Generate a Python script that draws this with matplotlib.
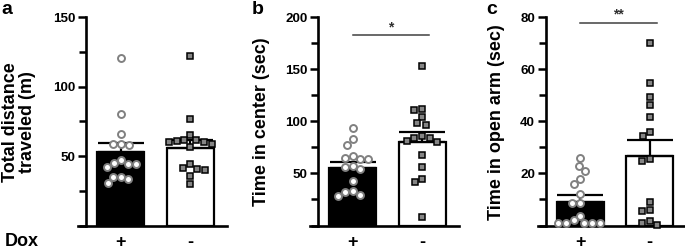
import numpy as np
import matplotlib
matplotlib.use('Agg')
import matplotlib.pyplot as plt
from matplotlib.ticker import MultipleLocator

plt.rcParams['font.family'] = ['Liberation Sans', 'DejaVu Sans']
plt.rcParams['font.weight'] = 'bold'

# ---------------- data ----------------
groups = ['+', '-']

a_plus = [121, 80.5, 66, 59, 58.5, 58, 47.5, 45, 44.5, 44.5, 42, 35, 35, 33.5, 30.5]
a_minus = [122, 76.5, 65.5, 61.5, 61, 60.5, 60, 61.5, 59, 56.5, 44, 41.5, 40.5, 40, 36, 30]
a_mean = [53, 56]
a_sem = [6.5, 5.5]

b_plus = [94, 83, 77.5, 67, 64.5, 64, 63.5, 57, 56, 54, 43, 33, 32, 29.5, 28.5]
b_minus = [153, 112, 111, 104, 98, 97, 85.5, 84.5, 84, 81, 80, 68, 56.5, 45, 42, 8]
b_mean = [55.5, 80.5]
b_sem = [5.2, 9.7]

c_plus = [26, 23, 21, 18, 16, 12, 8.5, 8.5, 3.8, 2, 1, 1, 0.8, 0.8, 0.8]
c_minus = [70, 54.6, 49.4, 46.2, 41.7, 35.9, 34.3, 25.7, 24.7, 9, 5.8, 5.4, 1.7, 1, 0.3]
c_mean = [9.0, 26.8]
c_sem = [2.8, 6.0]

ylabels = ['Total distance\ntraveled (m)', 'Time in center (sec)', 'Time in open arm (sec)']
panel_letters = ['a', 'b', 'c']
ymax = [150, 200, 80]
ystep = [50, 50, 20]
signif = [None, '*', '**']
signif_y = [None, 183, 78]

# ---------------- layout ----------------
W, H = 685, 250
fig = plt.figure(figsize=(W / 100, H / 100), dpi=100)

ax_left_px = [86, 318, 545.5]
ax_top_px, ax_bot_px = 17.3, 225.5
XLIM = (-0.5, 1.53)
x_px_per_unit = 69.5
ax_w_px = (XLIM[1] - XLIM[0]) * x_px_per_unit
ax_h_px = ax_bot_px - ax_top_px

ylabel_x_px = [19, 261.5, 496]
letter_pos = [(1, 10), (252, 10), (486, 10)]


def swarm(values, yscale, d=8.0):
    """Simple beeswarm: returns x offsets (pixels) for values (y in pixels)."""
    vals = np.asarray(values, float) * yscale
    order = np.argsort(-vals)
    placed = []
    offs = np.zeros(len(vals))
    for i in order:
        y = vals[i]
        cands = [0.0]
        for (px, py) in placed:
            dy = abs(py - y)
            if dy < d:
                dx = np.sqrt(d * d - dy * dy)
                cands += [px + dx, px - dx]
        cands = sorted(cands, key=lambda c: (abs(c), c))
        for c in cands:
            ok = all((c - px) ** 2 + (y - py) ** 2 >= d * d - 1e-6 for (px, py) in placed)
            if ok:
                offs[i] = c
                placed.append((c, y))
                break
    return offs


data = [(a_plus, a_minus, a_mean, a_sem),
        (b_plus, b_minus, b_mean, b_sem),
        (c_plus, c_minus, c_mean, c_sem)]

for k, (plus, minus, mean, sem) in enumerate(data):
    ax = fig.add_axes([ax_left_px[k] / W, (H - ax_bot_px) / H, ax_w_px / W, ax_h_px / H])
    ax.set_xlim(*XLIM)
    ax.set_ylim(0, ymax[k])
    x = np.arange(len(groups))
    ax.bar(x, mean, width=0.68, color=['black', 'white'], edgecolor='black',
           linewidth=1.6, zorder=2)
    ax.errorbar(x, mean, yerr=[[0, 0], sem], fmt='none', ecolor='black',
                elinewidth=1.6, capsize=16.5, capthick=1.6, zorder=3)
    yscale = ax_h_px / ymax[k]
    offp = swarm(plus, yscale) / x_px_per_unit
    offm = swarm(minus, yscale) / x_px_per_unit
    ax.plot(x[0] + offp, plus, 'o', ms=5, mfc='white', mec='#808080', mew=1.4,
            zorder=4, clip_on=False)
    ax.plot(x[1] + offm, minus, 's', ms=5, mfc='#858585', mec='black', mew=1.1,
            zorder=4, clip_on=False)

    for s in ['top', 'right']:
        ax.spines[s].set_visible(False)
    for s in ['left', 'bottom']:
        ax.spines[s].set_linewidth(1.9)
    ax.spines['bottom'].set_bounds(XLIM[0] - 8 / x_px_per_unit, XLIM[1])

    ax.set_yticks(np.arange(ystep[k], ymax[k] + 1, ystep[k]))
    ax.yaxis.set_minor_locator(MultipleLocator(ystep[k] / 2))
    ax.tick_params(axis='y', which='major', length=6, width=1.8, labelsize=9.6, pad=1.5)
    ax.tick_params(axis='y', which='minor', length=5, width=1.8)
    for t in ax.get_yticklabels():
        t.set_fontweight('bold')
    ax.set_xticks(x)
    ax.set_xticklabels(groups, fontsize=13, fontweight='bold')
    ax.tick_params(axis='x', length=0, pad=6)

    fig.text(ylabel_x_px[k] / W, 1 - 122 / H, ylabels[k], rotation=90, ha='center',
             va='center', fontsize=13, fontweight='bold', linespacing=1.05)
    fig.text(letter_pos[k][0] / W, 1 - letter_pos[k][1] / H, panel_letters[k],
             ha='left', va='center', fontsize=14, fontweight='bold')

    if signif[k]:
        ax.plot([x[0], x[1] + 0.1], [signif_y[k]] * 2, color='#404040',
                lw=1.1, clip_on=False)
        ax.text((x[0] + x[1]) / 2 + 0.05, signif_y[k] * 1.005, signif[k], ha='center',
                va='bottom', fontsize=10, fontweight='bold', color='#303030')

fig.text(22 / W, 1 - 241 / H, 'Dox', ha='center', va='center', fontsize=13,
         fontweight='bold')

fig.savefig('out.png', dpi=100)
